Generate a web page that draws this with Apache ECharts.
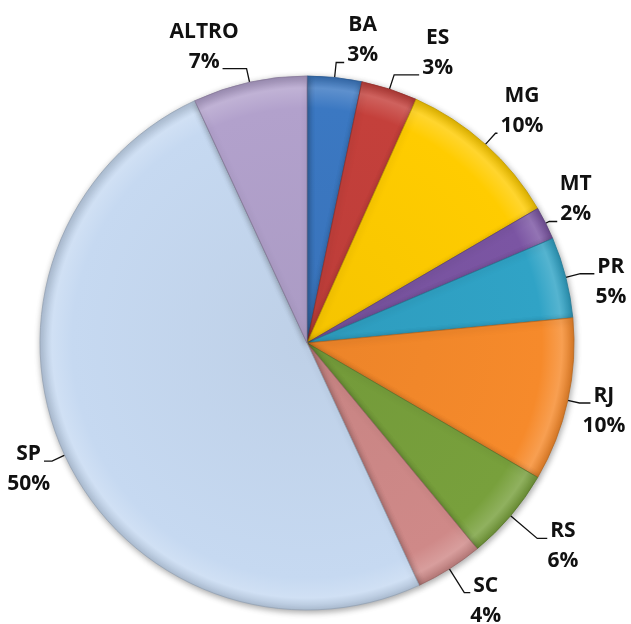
<!DOCTYPE html>
<html>
<head>
<meta charset="utf-8">
<script src="https://cdn.jsdelivr.net/npm/echarts@6/dist/echarts.min.js"></script>
<style>
html,body{margin:0;padding:0;background:#fff;}
#chart{width:631px;height:624px;}
</style>
</head>
<body>
<div id="chart"></div>
<script>
// Data (share of total, %)
var categories = ['BA', 'ES', 'MG', 'MT', 'PR', 'RJ', 'RS', 'SC', 'SP', 'ALTRO'];
var values = [3.3, 3.4, 9.9, 2.0, 4.9, 9.9, 5.6, 4.1, 50.0, 6.9];

// Styles (kept apart from the data)
var colors = ['#3b78c2', '#c4403b', '#ffcc00', '#7b55a3', '#30a3c6', '#f68a2b', '#78a03c', '#cf8988', '#c6d9f1', '#b2a1cc'];
var leaderLen1 = [15, 15, 15, 4, 15, 12, 35, 28, 14, 14];
var leaderLen2 = [8, 25, 2, 8, 14, 11, 10, 6, 8, 24];

var CX = 307, CY = 343, R = 267;
var FONT_SIZE = 21;
var FONT = 'bold ' + FONT_SIZE + 'px "Open Sans"';

function shade(hex, f) {
  var n = parseInt(hex.slice(1), 16);
  var r = (n >> 16) & 255, g = (n >> 8) & 255, b = n & 255;
  function adj(c) { return Math.max(0, Math.min(255, Math.round(f > 0 ? c + (255 - c) * f : c * (1 + f)))); }
  return 'rgb(' + adj(r) + ',' + adj(g) + ',' + adj(b) + ')';
}

var measureCtx = document.createElement('canvas').getContext('2d');
function textW(s) { measureCtx.font = FONT; return measureCtx.measureText(s).width; }

var total = values.reduce(function (a, b) { return a + b; }, 0);
function pctText(v) { return Math.round(v / total * 100) + '%'; }

var data = categories.map(function (name, i) {
  var c = colors[i];
  return {
    name: name,
    value: values[i],
    labelLine: { length: leaderLen1[i], length2: leaderLen2[i] },
    itemStyle: {
      color: {
        type: 'radial', x: CX, y: CY, r: R, global: true,
        colorStops: [
          { offset: 0, color: shade(c, -0.04) },
          { offset: 0.88, color: c },
          { offset: 0.955, color: shade(c, 0.18) },
          { offset: 1, color: shade(c, -0.12) }
        ]
      },
      borderColor: shade(c, -0.25),
      borderWidth: 0.8
    }
  };
});

var chart = echarts.init(document.getElementById('chart'), null, { renderer: 'canvas' });
chart.setOption({
  backgroundColor: '#ffffff',
  animation: false,
  series: [{
    type: 'pie',
    center: [CX, CY],
    radius: [0, R],
    startAngle: 90,
    clockwise: true,
    avoidLabelOverlap: false,
    data: data,
    itemStyle: {
      shadowBlur: 6,
      shadowColor: 'rgba(0,0,0,0.35)',
      shadowOffsetX: 1,
      shadowOffsetY: 2
    },
    label: {
      show: true,
      position: 'outside',
      formatter: function (p) { return p.name + '\n' + pctText(p.value); },
      fontFamily: 'Open Sans',
      fontWeight: 'bold',
      fontSize: FONT_SIZE,
      lineHeight: 30,
      color: '#111'
    },
    labelLine: {
      show: true,
      smooth: false,
      lineStyle: { color: '#111', width: 1.3 }
    },
    labelLayout: function (p) {
      var pts = p.labelLinePoints;
      if (!pts) return {};
      var end = pts[pts.length - 1];
      var right = end[0] >= pts[0][0];
      var h = p.labelRect.height;
      var idx = p.dataIndex;
      var upper = end[1] < CY - 110;
      var rowW = upper ? textW(pctText(values[idx])) : textW(categories[idx]);
      var x = right ? end[0] + 3 + rowW / 2 : end[0] - 3 - rowW / 2;
      var y = upper ? end[1] - 7 - h / 4 : end[1] - 7 + h / 4;
      return { x: x, y: y, align: 'center', verticalAlign: 'middle', labelLinePoints: pts };
    }
  }]
});
</script>
</body>
</html>
